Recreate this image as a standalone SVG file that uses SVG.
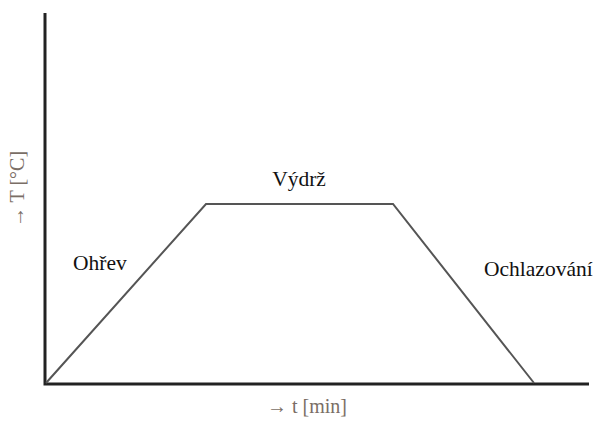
<svg xmlns="http://www.w3.org/2000/svg" width="593" height="421" viewBox="0 0 593 421">
<style>
.axis{stroke:#222;stroke-width:3;fill:none}
.curve{stroke:#555;stroke-width:2;fill:none;stroke-linejoin:miter}
.lbl{font-family:"Liberation Serif",serif;font-size:21.5px;fill:#111}
.ax{font-family:"Liberation Serif",serif;font-size:20px;fill:#7a6e66}
</style>
<rect width="593" height="421" fill="#fff"/>
<g id="connectors">
<path class="axis" d="M45,13 V384 H589"/>
<path class="curve" d="M46,383 L206,204 L393,204 L534,383"/>
</g>
<g id="label-ohrev"><text class="lbl" x="73" y="270">Ohřev</text></g>
<g id="label-vydrz"><text class="lbl" x="299" y="186" text-anchor="middle">Výdrž</text></g>
<g id="label-ochlazovani"><text class="lbl" x="484" y="276">Ochlazování</text></g>
<g id="axis-x"><text class="ax" x="307" y="413" text-anchor="middle">→ t [min]</text></g>
<g id="axis-y"><text class="ax" transform="translate(24,189) rotate(-90)" text-anchor="middle">→ T [°C]</text></g>
</svg>
